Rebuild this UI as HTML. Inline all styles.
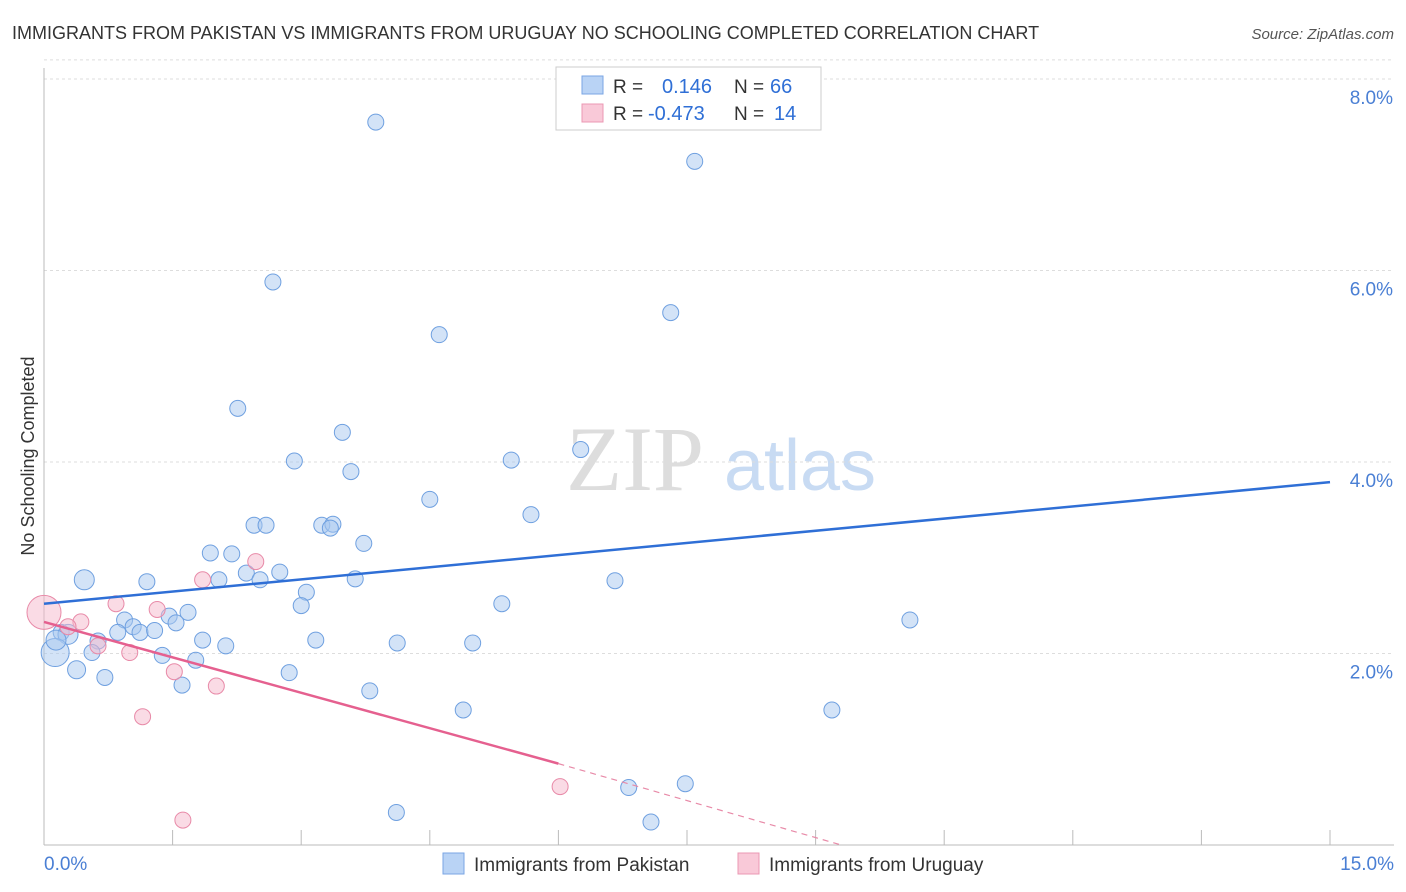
<!DOCTYPE html>
<html><head><meta charset="utf-8"><style>
body{margin:0;background:#fff;font-family:"Liberation Sans",sans-serif;}
svg{display:block}
</style></head><body>
<svg id="chart" width="1406" height="892" xmlns="http://www.w3.org/2000/svg">
<text x="12" y="39" font-size="18" fill="#333">IMMIGRANTS FROM PAKISTAN VS IMMIGRANTS FROM URUGUAY NO SCHOOLING COMPLETED CORRELATION CHART</text>
<text x="1394" y="39" font-size="15" fill="#555" font-style="italic" text-anchor="end">Source: ZipAtlas.com</text>
<text x="34" y="456" font-size="18" fill="#333" text-anchor="middle" transform="rotate(-90 34 456)">No Schooling Completed</text>
<g>
<text x="635" y="490" font-size="92" fill="#ddd" font-family="Liberation Serif,serif" text-anchor="middle">ZIP</text>
<text x="800" y="490" font-size="72" fill="#c8dbf3" text-anchor="middle">atlas</text>
</g>
<g id="grid"></g><g id="axes"></g><g id="marks"></g>
<g>
<rect x="556" y="67" width="265" height="63" fill="#fff" stroke="#ccc"/>
<rect x="582" y="76" width="21" height="18" fill="#b9d3f5" stroke="#7aa6e4"/>
<rect x="582" y="104" width="21" height="18" fill="#f9c9d8" stroke="#eb98b3"/>
<text x="613" y="93" font-size="19" fill="#333">R =</text>
<text x="662" y="93" font-size="20" fill="#2f6fd6">0.146</text>
<text x="734" y="93" font-size="19" fill="#333">N =</text>
<text x="770" y="93" font-size="20" fill="#2f6fd6">66</text>
<text x="613" y="120" font-size="19" fill="#333">R =</text>
<text x="648" y="120" font-size="20" fill="#2f6fd6">-0.473</text>
<text x="734" y="120" font-size="19" fill="#333">N =</text>
<text x="774" y="120" font-size="20" fill="#2f6fd6">14</text>
</g>
<g>
<rect x="443" y="853" width="21" height="21" fill="#b9d3f5" stroke="#7aa6e4"/>
<text x="474" y="871" font-size="19" fill="#333">Immigrants from Pakistan</text>
<rect x="738" y="853" width="21" height="21" fill="#f9c9d8" stroke="#eb98b3"/>
<text x="769" y="871" font-size="19" fill="#333">Immigrants from Uruguay</text>
</g>
</svg>
<script>
const yTicks=[2,4,6,8];
const yTickLabels=["2.0%","4.0%","6.0%","8.0%"];
const xTicks=[0,1.5,3,4.5,6,7.5,9,10.5,12,13.5,15];
const xEndLabels=["0.0%","15.0%"];
const pakX=[3.87,7.59,2.67,7.31,4.61,2.26,3.48,2.92,5.45,6.26,3.58,4.50,5.68,2.45,2.59,3.24,3.37,3.34,3.73,1.94,2.19,0.47,1.20,2.04,2.36,2.52,2.75,3.63,6.66,3.06,3.00,5.34,1.68,1.46,1.54,0.94,1.04,0.86,1.12,1.29,0.20,0.28,0.63,1.85,2.12,3.17,4.12,5.00,10.10,0.13,0.56,1.38,1.77,0.38,0.71,1.61,2.86,3.80,4.89,9.19,6.82,7.48,4.11,7.08,0.14];
const pakY=[7.55,7.14,5.88,5.56,5.33,4.56,4.31,4.01,4.02,4.13,3.90,3.61,3.45,3.34,3.34,3.34,3.35,3.31,3.15,3.05,3.04,2.77,2.75,2.77,2.84,2.77,2.85,2.78,2.76,2.64,2.50,2.52,2.43,2.39,2.32,2.35,2.28,2.22,2.22,2.24,2.22,2.20,2.13,2.14,2.08,2.14,2.11,2.11,2.35,2.01,2.01,1.98,1.93,1.83,1.75,1.67,1.80,1.61,1.41,1.41,0.60,0.64,0.34,0.24,2.14];
const pakR=[8,8,8,8,8,8,8,8,8,8,8,8,8,8,8,8,8,8,8,8,8,10,8,8,8,8,8,8,8,8,8,8,8,8,8,8,8,8,8,8,8,10,8,8,8,8,8,8,8,14,8,8,8,9,8,8,8,8,8,8,8,8,8,8,10];
const uruX=[0,0.84,1.32,0.43,0.28,0.63,1.00,1.85,2.47,1.52,2.01,1.15,6.02,1.62];
const uruY=[2.43,2.52,2.46,2.33,2.28,2.08,2.01,2.77,2.96,1.81,1.66,1.34,0.61,0.26];
const uruR=[17,8,8,8,8,8,8,8,8,8,8,8,8,8];
const pakTrend=[[0,2.52],[15,3.79]];
const uruTrendSolid=[[0,2.33],[6.0,0.85]];
const uruTrendDash=[[6.0,0.85],[9.3,0]];

const NS="http://www.w3.org/2000/svg";
const X=v=>44+v/15*1286, Y=v=>845-v*95.75;
function mk(p,t,a){const e=document.createElementNS(NS,t);for(const k in a)e.setAttribute(k,a[k]);p.appendChild(e);return e;}
const grid=document.getElementById('grid'),axes=document.getElementById('axes'),marks=document.getElementById('marks');
yTicks.forEach((t,i)=>{
 const l=mk(grid,'line',{x1:44,x2:1394,y1:Y(t),y2:Y(t),stroke:'#ddd','stroke-dasharray':'3,3'});
 
 
 const tx=mk(axes,'text',{x:1393,y:Y(t)+25,'font-size':19,fill:'#4a7fd4','text-anchor':'end'});tx.textContent=yTickLabels[i];
 
 
});
const tl=mk(grid,'line',{x1:44,x2:1394,y1:Y(8.2),y2:Y(8.2),stroke:'#ddd','stroke-dasharray':'3,3'});
mk(axes,'line',{x1:44,x2:44,y1:68,y2:845,stroke:'#bbb'});
const xa=mk(axes,'line',{x1:44,x2:1394,y1:845,y2:845,stroke:'#bbb'});


xTicks.forEach(t=>{const l=mk(axes,'line',{x1:X(t),x2:X(t),y1:830,y2:845,stroke:'#bbb'});
 
 });
const x0=mk(axes,'text',{x:44,y:870,'font-size':19,fill:'#4a7fd4'});x0.textContent=xEndLabels[0];


const x1=mk(axes,'text',{x:1394,y:870,'font-size':19,fill:'#4a7fd4','text-anchor':'end'});x1.textContent=xEndLabels[1];


pakX.forEach((v,i)=>{const c=mk(marks,'circle',{cx:X(v),cy:Y(pakY[i]),r:pakR[i],fill:'rgba(168,200,240,0.5)',stroke:'#6fa0e0','stroke-width':1});
 
 });
uruX.forEach((v,i)=>{const c=mk(marks,'circle',{cx:X(v),cy:Y(uruY[i]),r:uruR[i],fill:'rgba(245,184,204,0.5)',stroke:'#e88aa8','stroke-width':1});
 
 });
const bl=mk(marks,'line',{x1:X(pakTrend[0][0]),y1:Y(pakTrend[0][1]),x2:X(pakTrend[1][0]),y2:Y(pakTrend[1][1]),stroke:'#2f6fd6','stroke-width':2.5});


const pl=mk(marks,'line',{x1:X(uruTrendSolid[0][0]),y1:Y(uruTrendSolid[0][1]),x2:X(uruTrendSolid[1][0]),y2:Y(uruTrendSolid[1][1]),stroke:'#e5608f','stroke-width':2.5});


const pd=mk(marks,'line',{x1:X(uruTrendDash[0][0]),y1:Y(uruTrendDash[0][1]),x2:X(uruTrendDash[1][0]),y2:Y(uruTrendDash[1][1]),stroke:'#e88aa8','stroke-width':1.2,'stroke-dasharray':'6,5'});


</script>
</body></html>
